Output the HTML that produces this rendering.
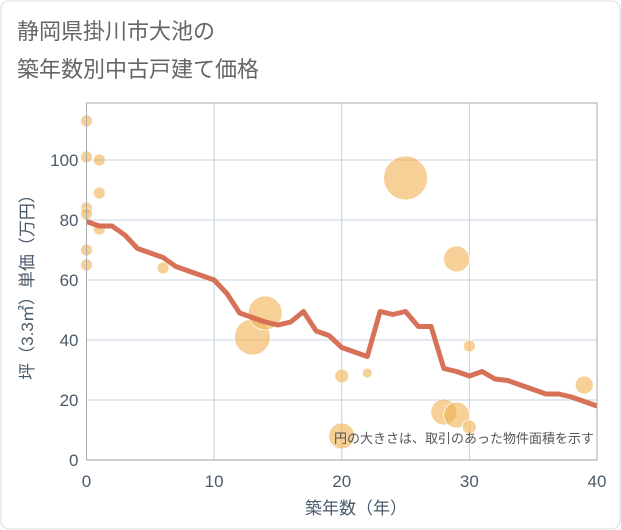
<!DOCTYPE html>
<html><head><meta charset="utf-8"><style>
body{margin:0;background:#fff;}
svg{display:block;font-family:"Liberation Sans","Noto Sans CJK JP",sans-serif;}
</style></head><body>
<svg width="621" height="530">
<rect x="1" y="1" width="619" height="528" rx="8" fill="#fff" stroke="#ddd"/>
<text x="17" y="39" font-size="22" fill="#666">静岡県掛川市大池の</text>
<text x="17" y="77" font-size="22" fill="#666">築年数別中古戸建て価格</text>
<g id="grid"></g>
<g id="bubbles"></g>
<g id="line"></g>
<g id="axes"></g>
<text x="594" y="443" font-size="13" fill="#555" text-anchor="end">円の大きさは、取引のあった物件面積を示す</text>
<text x="356" y="514" font-size="17" fill="#4a5a6a" text-anchor="middle">築年数（年）</text>
<text transform="translate(33,283) rotate(-90)" font-size="17" fill="#4a5a6a" text-anchor="middle">坪（3.3㎡）単価（万円）</text>
</svg>
<script>
const xTicks=[0,10,20,30,40];
const yTicks=[0,20,40,60,80,100];
const lineYears=[0,1,2,3,4,5,6,7,8,9,10,11,12,13,14,15,16,17,18,19,20,21,22,23,24,25,26,27,28,29,30,31,32,33,34,35,36,37,38,39,40];
const linePrices=[79.5,78,78,75,70.5,69,67.5,64.5,63,61.5,60,55.5,49,47.5,46,45,46,49.5,43,41.5,37.5,36,34.5,49.5,48.5,49.5,44.5,44.5,30.5,29.5,28,29.5,27,26.5,25,23.5,22,22,21,19.5,18];
const bubbleYears=[0,0,1,1,0,0,1,0,0,6,13,14,25,29,20,22,30,39,28,29,30,20];
const bubblePrices=[113,101,100,89,84,82,77,70,65,64,41,49,94,67,28,29,38,25,16,15,11,8];
const bubbleAreas=[36,36,36,36,36,36,36,36,36,36,324,289,484,169,49,25,36,81,169,169,49,169];
const X0=86.5,X1=597,Y0=460,YT=103;
const sx=v=>X0+(X1-X0)*v/40;
const sy=v=>Y0-v*3;
const NS='http://www.w3.org/2000/svg';
function mk(t,a,p){const e=document.createElementNS(NS,t);for(const k in a)e.setAttribute(k,a[k]);p.appendChild(e);return e;}
const grid=document.getElementById('grid'),ax=document.getElementById('axes');
yTicks.forEach(v=>{
 const l=mk('line',{x1:X0,x2:X1,y1:sy(v),y2:sy(v),stroke:'#d0dbe5','stroke-width':1.2},grid);
 
 
 const t=mk('text',{x:X0-8,y:sy(v)+6,'font-size':17,fill:'#4a5a6a','text-anchor':'end'},ax);
 t.textContent=v;
 
 
});
xTicks.forEach(v=>{
 const l=mk('line',{x1:sx(v),x2:sx(v),y1:YT,y2:Y0,stroke:'#c5d0da','stroke-width':1},grid);
 
 
 const t=mk('text',{x:sx(v),y:Y0+27,'font-size':17,fill:'#4a5a6a','text-anchor':'middle'},ax);
 t.textContent=v;
 
 
});
const fr=mk('rect',{x:X0,y:YT,width:X1-X0,height:Y0-YT,fill:'none',stroke:'#aaa','stroke-width':1},ax);


const bg=document.getElementById('bubbles');
bubbleYears.forEach((y,i)=>{
 const c=mk('circle',{cx:sx(y),cy:sy(bubblePrices[i]),r:Math.sqrt(bubbleAreas[i]),fill:'#f0b050','fill-opacity':0.6,stroke:'#fff','stroke-width':0.8},bg);
 
 
});
const pts=lineYears.map((y,i)=>sx(y)+','+sy(linePrices[i])).join(' ');
const pl=mk('polyline',{points:pts,fill:'none',stroke:'#d5694f','stroke-width':5,'stroke-linejoin':'round','stroke-opacity':0.95},document.getElementById('line'));


</script>
</body></html>
